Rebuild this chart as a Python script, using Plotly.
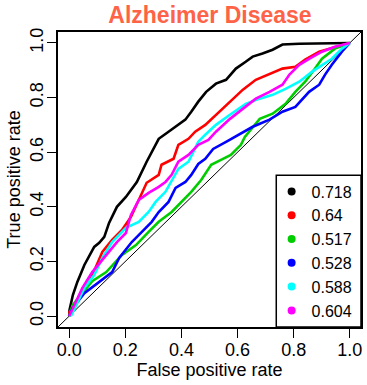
import plotly.graph_objects as go

# ROC curves (false positive rate, true positive rate) for six classifiers
fpr_black = [0.0, 0.001, 0.013, 0.029, 0.054, 0.089, 0.107, 0.125, 0.142, 0.170, 0.202, 0.241, 0.276, 0.319,
             0.354, 0.379, 0.414, 0.435, 0.460, 0.488, 0.502, 0.523, 0.559, 0.594, 0.629, 0.654, 0.689,
             0.725, 0.760, 0.820, 1.0]
tpr_black = [0.0, 0.022, 0.077, 0.125, 0.187, 0.253, 0.268, 0.290, 0.341, 0.400, 0.436, 0.491, 0.565, 0.649,
             0.675, 0.693, 0.719, 0.748, 0.785, 0.821, 0.832, 0.851, 0.865, 0.906, 0.931, 0.950, 0.961,
             0.975, 0.994, 0.997, 1.0]

fpr_red = [0.0, 0.001, 0.072, 0.118, 0.153, 0.188, 0.220, 0.248, 0.276, 0.319, 0.329, 0.372, 0.389, 0.425,
           0.449, 0.485, 0.523, 0.573, 0.619, 0.665, 0.714, 0.760, 0.806, 0.841, 0.891, 0.947, 1.0]
tpr_red = [0.0, 0.015, 0.125, 0.235, 0.279, 0.315, 0.363, 0.425, 0.488, 0.517, 0.554, 0.576, 0.627, 0.649,
           0.675, 0.700, 0.737, 0.785, 0.829, 0.865, 0.887, 0.906, 0.913, 0.939, 0.968, 0.983, 1.0]

fpr_green = [0.0, 0.012, 0.082, 0.132, 0.188, 0.238, 0.283, 0.319, 0.365, 0.400, 0.435, 0.471, 0.506, 0.541,
             0.576, 0.612, 0.626, 0.647, 0.679, 0.725, 0.771, 0.806, 0.841, 0.876, 0.901, 0.947, 1.0]
tpr_green = [0.0, 0.040, 0.128, 0.161, 0.224, 0.260, 0.308, 0.345, 0.381, 0.418, 0.455, 0.499, 0.554, 0.572,
             0.590, 0.627, 0.656, 0.682, 0.722, 0.741, 0.777, 0.821, 0.858, 0.906, 0.942, 0.979, 1.0]

fpr_blue = [0.0, 0.012, 0.054, 0.107, 0.153, 0.178, 0.223, 0.259, 0.294, 0.319, 0.354, 0.379, 0.414, 0.435,
            0.460, 0.485, 0.513, 0.559, 0.608, 0.654, 0.714, 0.760, 0.806, 0.831, 0.855, 0.891, 0.912,
            0.936, 0.972, 1.0]
tpr_blue = [0.0, 0.029, 0.084, 0.125, 0.161, 0.213, 0.271, 0.308, 0.345, 0.381, 0.418, 0.469, 0.491, 0.517,
            0.557, 0.576, 0.612, 0.638, 0.667, 0.693, 0.719, 0.748, 0.766, 0.796, 0.821, 0.847, 0.884,
            0.920, 0.968, 1.0]

fpr_cyan = [0.0, 0.008, 0.054, 0.089, 0.118, 0.153, 0.202, 0.248, 0.283, 0.308, 0.343, 0.372, 0.389, 0.425,
            0.460, 0.485, 0.523, 0.573, 0.629, 0.679, 0.725, 0.771, 0.820, 0.866, 0.901, 0.936, 0.972, 1.0]
tpr_cyan = [0.0, 0.004, 0.103, 0.150, 0.213, 0.271, 0.323, 0.345, 0.381, 0.418, 0.455, 0.506, 0.539, 0.565,
            0.638, 0.664, 0.700, 0.737, 0.777, 0.796, 0.810, 0.832, 0.858, 0.895, 0.920, 0.942, 0.979, 1.0]

fpr_magenta = [0.0, 0.047, 0.082, 0.132, 0.170, 0.202, 0.220, 0.248, 0.283, 0.319, 0.343, 0.365, 0.389,
               0.425, 0.460, 0.496, 0.523, 0.573, 0.619, 0.665, 0.714, 0.760, 0.785, 0.820, 0.855, 0.901,
               0.947, 1.0]
tpr_magenta = [0.0, 0.103, 0.161, 0.224, 0.271, 0.304, 0.370, 0.425, 0.451, 0.473, 0.491, 0.517, 0.565,
               0.590, 0.627, 0.645, 0.675, 0.722, 0.759, 0.796, 0.821, 0.847, 0.884, 0.920, 0.942, 0.968,
               0.986, 1.0]

auc_labels = ["0.718", "0.64", "0.517", "0.528", "0.588", "0.604"]
colors = ["#000000", "#FF0000", "#00CD00", "#0000FF", "#00FFFF", "#FF00FF"]
tick_vals = [0.0, 0.2, 0.4, 0.6, 0.8, 1.0]
tick_text = ["0.0", "0.2", "0.4", "0.6", "0.8", "1.0"]

curves = [
    (fpr_black, tpr_black),
    (fpr_red, tpr_red),
    (fpr_green, tpr_green),
    (fpr_blue, tpr_blue),
    (fpr_cyan, tpr_cyan),
    (fpr_magenta, tpr_magenta),
]

FONT = "Liberation Sans, Arial, Helvetica, sans-serif"
LO, HI = -0.04, 1.04

fig = go.Figure()

# chance diagonal across the whole plotting region
fig.add_shape(type="line", x0=LO, y0=LO, x1=HI, y1=HI, xref="x", yref="y",
              line=dict(color="black", width=1), layer="below")

for (fx, ty), col in zip(curves, colors):
    fig.add_trace(go.Scatter(x=fx, y=ty, mode="lines", showlegend=False,
                             line=dict(color=col, width=2.6), hoverinfo="skip"))

# legend entries: coloured dots with the AUC values
for lab, col in zip(auc_labels, colors):
    fig.add_trace(go.Scatter(x=[None], y=[None], mode="markers", name=lab,
                             marker=dict(color=col, size=8)))

# legend frame
fig.add_shape(type="rect", xref="x", yref="y", x0=0.738, y0=LO, x1=HI, y1=0.516,
              line=dict(color="black", width=1.5), fillcolor="white", layer="below")

axis_common = dict(
    range=[LO, HI], tickvals=tick_vals, ticktext=tick_text,
    showgrid=False, zeroline=False, showline=True, mirror=True,
    linecolor="black", linewidth=1.5, ticks="outside", ticklen=9, tickwidth=1.2,
    tickcolor="black", tickfont=dict(family=FONT, size=18, color="black"),
    ticklabelstandoff=-3,
)

fig.update_layout(
    width=367, height=385,
    margin=dict(l=58, r=4, t=32, b=58),
    paper_bgcolor="white", plot_bgcolor="white",
    font=dict(family=FONT, size=18, color="black"),
    title=dict(text="<b>Alzheimer Disease</b>", x=0.5721, xanchor="center", y=0.960, yanchor="middle",
               font=dict(family=FONT, size=23, color="#FF6347")),
    xaxis=dict(**axis_common,
               title=dict(text="False positive rate", standoff=0,
                          font=dict(family=FONT, size=18))),
    yaxis=dict(**axis_common, tickangle=-90,
               title=dict(text="True positive rate", standoff=2,
                          font=dict(family=FONT, size=18))),
    legend=dict(x=0.705, y=0.517, xanchor="left", yanchor="top", bgcolor="rgba(0,0,0,0)",
                borderwidth=0, font=dict(family=FONT, size=16, color="black"),
                itemwidth=30, tracegroupgap=0),
)

fig.write_html("out.html")
